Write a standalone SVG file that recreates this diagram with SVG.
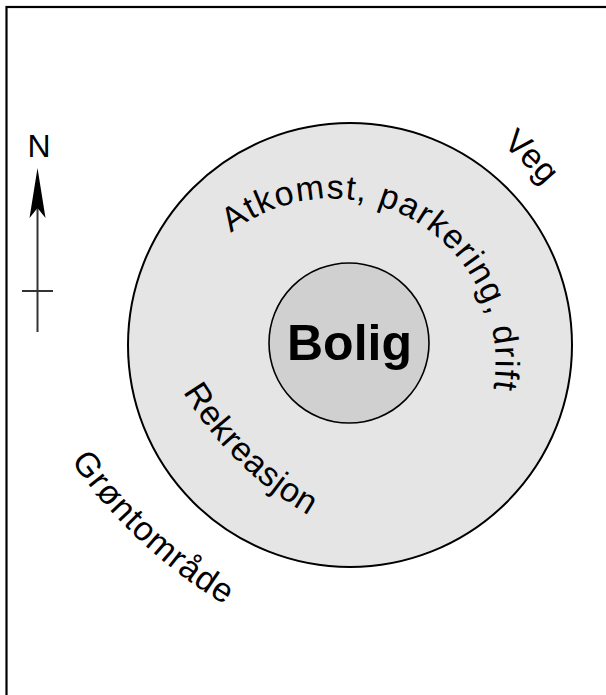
<svg xmlns="http://www.w3.org/2000/svg" width="606" height="695" viewBox="0 0 606 695">
<style>
.t{font-family:"Liberation Sans",Arial,Helvetica,sans-serif;fill:#000}
.lbl{font-size:34px}
.ring{stroke:#000;stroke-width:2}
</style>
<defs>
<path id="pAtk" d="M231,233 A164,164 0 0 1 491,401"/>
<path id="pVeg" d="M502,145 A250,250 0 0 1 577,239"/>
<path id="pGro" d="M71,461 A500,500 0 0 0 227,606"/>
<path id="pRek" d="M183,392 A350,350 0 0 0 310,516"/>
</defs>
<rect width="606" height="695" fill="#fff"/>
<rect x="6.5" y="7" width="700" height="800" fill="none" stroke="#000" stroke-width="2.2"/>
<g id="north">
<line x1="37.5" y1="205" x2="37.5" y2="332" stroke="#333" stroke-width="2"/>
<line x1="22" y1="291" x2="53" y2="291" stroke="#333" stroke-width="2"/>
<polygon points="37.5,168 45.5,218 37.5,208 29.5,218" fill="#000"/>
<text class="t" x="39" y="157" font-size="32" text-anchor="middle">N</text>
</g>
<g id="outer">
<circle cx="350" cy="345" r="222" fill="#e5e5e5" class="ring"/>
</g>
<g id="inner">
<circle cx="349" cy="343" r="80" fill="#d0d0d0" stroke="#000" stroke-width="1.6"/>
<text class="t" x="349.5" y="360" font-size="50" font-weight="bold" text-anchor="middle">Bolig</text>
</g>
<g id="labels">
<text class="t lbl" textLength="392" lengthAdjust="spacing"><textPath href="#pAtk">Atkomst, parkering, drift</textPath></text>
<text class="t lbl"><textPath href="#pVeg">Veg</textPath></text>
<text class="t lbl" textLength="212" lengthAdjust="spacing"><textPath href="#pGro">Grøntområde</textPath></text>
<text class="t lbl" textLength="178" lengthAdjust="spacing"><textPath href="#pRek">Rekreasjon</textPath></text>
</g>
</svg>
